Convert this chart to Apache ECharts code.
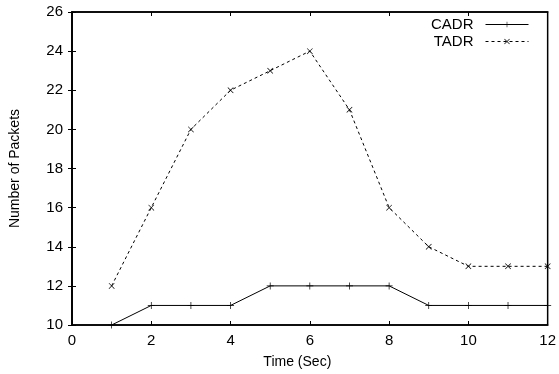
<!DOCTYPE html>
<html>
<head>
<meta charset="utf-8">
<script src="https://cdn.jsdelivr.net/npm/echarts@6/dist/echarts.min.js"></script>
<style>
  html, body { margin: 0; padding: 0; background: #fff; }
  #chart { width: 559px; height: 374px; }
</style>
</head>
<body>
<div id="chart"></div>
<script>
const timeSec = [1, 2, 3, 4, 5, 6, 7, 8, 9, 10, 11, 12]
const cadr = [10, 11, 11, 11, 12, 12, 12, 12, 11, 11, 11, 11]
const tadr = [12, 16, 20, 22, 23, 24, 21, 16, 14, 13, 13, 13]

const plusSymbol = 'path://M0,4.5H10V5.5H0Z M4.5,0H5.5V10H4.5Z'
const crossSymbol = 'path://M0,0.8L0.8,0L10,9.2L9.2,10Z M9.2,0L10,0.8L0.8,10L0,9.2Z'
const font = 'Liberation Sans, Arial, Helvetica, sans-serif'

const chart = echarts.init(document.getElementById('chart'), null, { renderer: 'canvas' })

const tickStyle = { inside: true, length: 4, lineStyle: { color: '#000', width: 1 } }
const axisLine = { show: true, lineStyle: { color: '#000', width: 1.5 } }

chart.setOption({
  animation: false,
  textStyle: { fontFamily: font, color: '#000' },
  grid: { left: 72, right: 10, top: 12, bottom: 46, show: true, borderColor: '#000', borderWidth: 1.5 },
  legend: {
    orient: 'vertical',
    right: 30,
    top: 17,
    padding: 0,
    align: 'right',
    itemWidth: 43,
    itemHeight: 7,
    itemGap: 2,
    lineStyle: { width: 1 },
    textStyle: { fontFamily: font, fontSize: 15, lineHeight: 15, color: '#000', padding: [0, 7, 0, 0] },
    data: ['CADR', 'TADR']
  },
  xAxis: [
    {
      type: 'value', min: 0, max: 12, interval: 2,
      name: 'Time (Sec)', nameLocation: 'middle', nameGap: 30,
      nameTextStyle: { fontFamily: font, fontSize: 14, color: '#000', padding: [0, 25, 0, 0] },
      axisLine: axisLine, axisTick: tickStyle,
      axisLabel: { fontFamily: font, fontSize: 15, color: '#000', margin: 8 },
      splitLine: { show: false }
    },
    {
      type: 'value', min: 0, max: 12, interval: 2, position: 'top',
      axisLine: axisLine, axisTick: tickStyle, axisLabel: { show: false }, splitLine: { show: false }
    }
  ],
  yAxis: [
    {
      type: 'value', min: 10, max: 26, interval: 2,
      name: 'Number of Packets', nameLocation: 'middle', nameGap: 50, nameRotate: 90,
      nameTextStyle: { fontFamily: font, fontSize: 14, color: '#000' },
      axisLine: axisLine, axisTick: tickStyle,
      axisLabel: { fontFamily: font, fontSize: 15, color: '#000', margin: 9 },
      splitLine: { show: false }
    },
    {
      type: 'value', min: 10, max: 26, interval: 2, position: 'right',
      axisLine: axisLine, axisTick: tickStyle, axisLabel: { show: false }, splitLine: { show: false }
    }
  ],
  series: [
    {
      name: 'CADR', type: 'line',
      data: timeSec.map((t, i) => [t, cadr[i]]),
      symbol: plusSymbol, symbolSize: 7,
      itemStyle: { color: '#000' },
      lineStyle: { color: '#000', width: 1, type: 'solid' }
    },
    {
      name: 'TADR', type: 'line',
      data: timeSec.map((t, i) => [t, tadr[i]]),
      symbol: crossSymbol, symbolSize: 6,
      itemStyle: { color: '#000' },
      lineStyle: { color: '#000', width: 1, type: [3, 3] }
    }
  ]
})
</script>
</body>
</html>
